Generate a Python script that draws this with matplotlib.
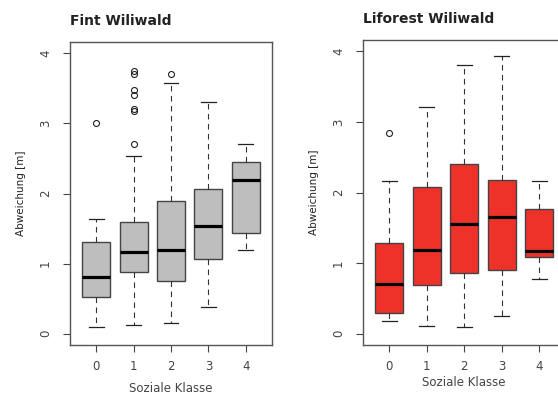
import matplotlib
matplotlib.use("Agg")
import matplotlib.pyplot as plt

plt.rcParams['font.family'] = ['DejaVu Sans']

klassen = ['0', '1', '2', '3', '4']

# Fint Wiliwald: whislo, q1, median, q3, whishi, outliers
fint_lo = [0.10, 0.12, 0.15, 0.38, 1.19]
fint_q1 = [0.52, 0.88, 0.75, 1.07, 1.43]
fint_med = [0.81, 1.17, 1.19, 1.54, 2.19]
fint_q3 = [1.31, 1.59, 1.90, 2.06, 2.45]
fint_hi = [1.63, 2.54, 3.57, 3.31, 2.71]
fint_out = [[3.0], [2.71, 3.17, 3.20, 3.40, 3.48, 3.70, 3.74], [3.70], [], []]

# Liforest Wiliwald
lif_lo = [0.18, 0.11, 0.09, 0.25, 0.77]
lif_q1 = [0.30, 0.69, 0.86, 0.90, 1.09]
lif_med = [0.71, 1.19, 1.56, 1.65, 1.17]
lif_q3 = [1.29, 2.08, 2.40, 2.17, 1.76]
lif_hi = [2.16, 3.21, 3.81, 3.93, 2.16]
lif_out = [[2.84], [], [], [], []]


def make_stats(lo, q1, med, q3, hi, out):
    stats = []
    for i in range(len(lo)):
        stats.append({'whislo': lo[i], 'q1': q1[i], 'med': med[i],
                      'q3': q3[i], 'whishi': hi[i], 'fliers': out[i]})
    return stats


def draw(ax, stats, color, title, xlab_pad):
    ax.bxp(stats, positions=range(1, 6), widths=0.75, capwidths=0.4,
           patch_artist=True, manage_ticks=False,
           boxprops=dict(facecolor=color, edgecolor='#444444', linewidth=1.0),
           medianprops=dict(color='black', linewidth=2.3),
           whiskerprops=dict(color='#333333', linewidth=0.8, linestyle=(0, (5, 4))),
           capprops=dict(color='#222222', linewidth=0.9),
           flierprops=dict(marker='o', markerfacecolor='none',
                           markeredgecolor='#222222', markersize=4.3,
                           markeredgewidth=0.8))
    ax.set_xlim(0.3, 5.7)
    ax.set_ylim(-0.16, 4.16)
    ax.set_xticks(range(1, 6))
    ax.set_xticklabels(klassen)
    ax.set_yticks([0, 1, 2, 3, 4])
    ax.tick_params(axis='both', length=5, width=0.8, color='#444444',
                   labelsize=8.5, labelcolor='#444444')
    ax.tick_params(axis='x', pad=6)
    ax.tick_params(axis='y', pad=8, labelrotation=90)
    for lbl in ax.get_yticklabels():
        lbl.set_va('center')
    for sp in ax.spines.values():
        sp.set_color('#555555')
        sp.set_linewidth(1.0)
    ax.set_ylabel('Abweichung [m]', fontsize=7.5, color='#222222', labelpad=9)
    ax.set_xlabel('Soziale Klasse', fontsize=8.5, color='#444444', labelpad=xlab_pad)
    ax.set_title(title, loc='left', fontsize=10, fontweight='bold',
                 color='#222222', pad=12)


fig = plt.figure(figsize=(5.58, 3.94), dpi=100)
ax1 = fig.add_axes([70 / 558, 49 / 394, 202 / 558, 303 / 394])
ax2 = fig.add_axes([363 / 558, 49 / 394, 202.5 / 558, 305 / 394])

draw(ax1, make_stats(fint_lo, fint_q1, fint_med, fint_q3, fint_hi, fint_out),
     '#BEBEBE', 'Fint Wiliwald', 6.5)
draw(ax2, make_stats(lif_lo, lif_q1, lif_med, lif_q3, lif_hi, lif_out),
     '#EE3229', 'Liforest Wiliwald', 2)

fig.savefig('out.png', dpi=100)
